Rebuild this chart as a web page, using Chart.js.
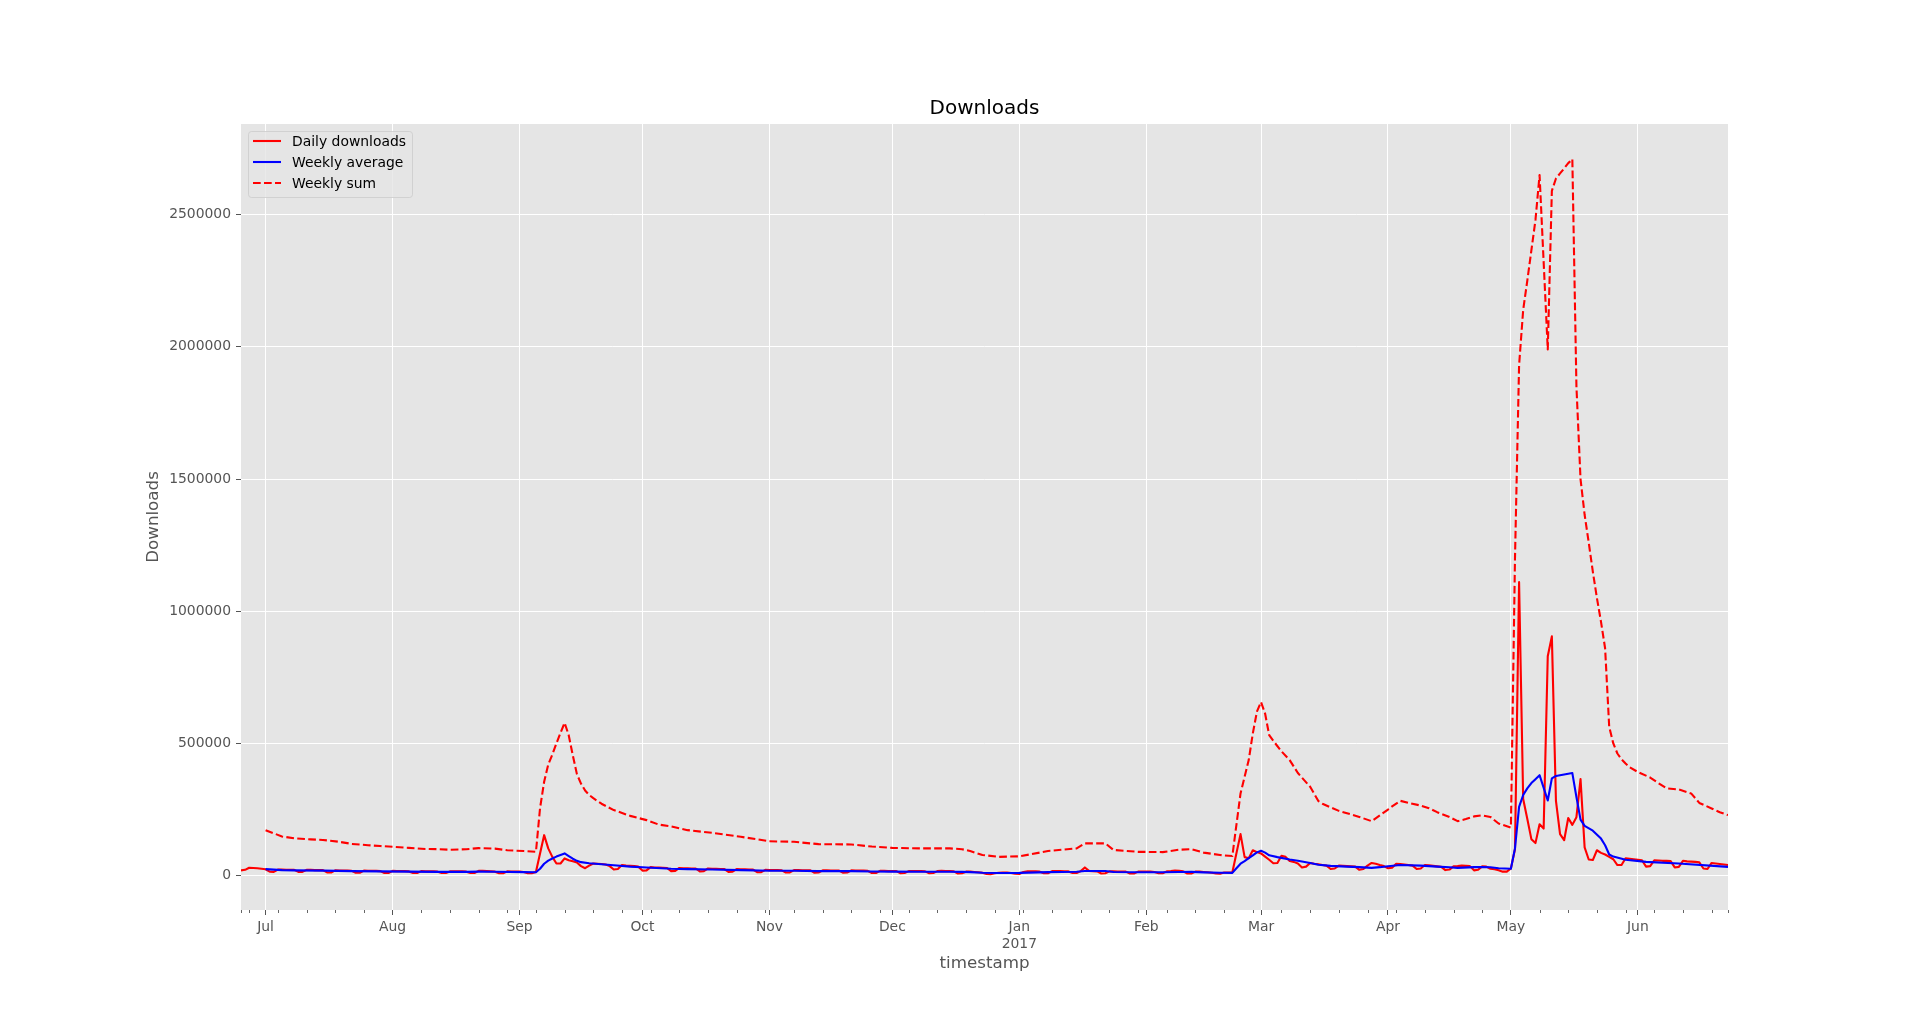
<!DOCTYPE html>
<html>
<head>
<meta charset="utf-8">
<title>Downloads</title>
<script src="https://cdn.jsdelivr.net/npm/chart.js@4.4.0/dist/chart.umd.min.js"></script>
<style>
  html, body { margin: 0; padding: 0; background: #ffffff; }
  #wrap { width: 1920px; height: 1022px; }
</style>
</head>
<body>
<div id="wrap"><canvas id="downloadsChart" width="1920" height="1022"></canvas></div>
<script>
// x values are days counted from 2016-06-25, the first day in the data
const monthTickDays = [6, 37, 68, 98, 129, 159, 190, 221, 249, 280, 310, 341];
const monthTickLabels = ['Jul', 'Aug', 'Sep', 'Oct', 'Nov', 'Dec', ['Jan', '2017'], 'Feb', 'Mar', 'Apr', 'May', 'Jun'];
const lastDay = 363;
const firstMonday = 2;
const yTicks = [0, 500000, 1000000, 1500000, 2000000, 2500000];

// daily downloads in thousands, one row per week (Sat .. Fri)
const dailyDownloads = [
  20, 22, 30, 29, 28, 26, 24,
  15, 14, 23, 23, 22, 22, 22,
  14, 14, 22, 22, 21, 21, 21,
  12, 12, 20, 19, 19, 19, 18,
  11, 11, 19, 18, 18, 18, 17,
  10, 10, 18, 17, 17, 17, 16,
  10, 10, 17, 16, 16, 16, 15,
  10, 10, 16, 16, 16, 16, 15,
  10, 10, 18, 18, 17, 16, 15,
  9, 9, 16, 15, 15, 15, 14,
  9, 9, 14, 84, 153, 103, 71,
  46, 46, 65, 58, 54, 50, 36,
  28, 38, 46, 45, 44, 42, 36,
  23, 25, 40, 38, 37, 36, 34,
  19, 20, 32, 31, 31, 30, 29,
  17, 18, 29, 28, 28, 27, 27,
  16, 17, 27, 26, 26, 25, 25,
  14, 15, 25, 24, 24, 23, 23,
  13, 13, 22, 21, 21, 21, 20,
  12, 12, 21, 21, 20, 20, 20,
  11, 12, 20, 20, 19, 19, 19,
  11, 12, 20, 19, 19, 19, 18,
  10, 10, 18, 18, 17, 17, 17,
  9, 10, 17, 17, 17, 17, 16,
  9, 10, 17, 18, 17, 17, 16,
  8, 9, 15, 15, 14, 13, 11,
  6, 5, 9, 11, 12, 12, 10,
  7, 6, 14, 16, 16, 16, 15,
  9, 9, 17, 17, 17, 16, 16,
  10, 10, 17, 31, 18, 17, 16,
  8, 9, 16, 16, 15, 15, 15,
  8, 8, 15, 15, 15, 15, 14,
  9, 9, 16, 17, 19, 18, 16,
  8, 8, 15, 15, 14, 13, 11,
  8, 7, 12, 12, 12, 85, 157,
  70, 66, 96, 89, 84, 72, 60,
  47, 48, 75, 71, 55, 52, 46,
  31, 34, 48, 45, 43, 40, 38,
  25, 27, 38, 37, 36, 35, 34,
  22, 25, 38, 48, 45, 40, 36,
  28, 30, 45, 44, 42, 40, 38,
  25, 27, 40, 39, 37, 35, 33,
  21, 23, 35, 36, 38, 37, 36,
  20, 22, 35, 34, 26, 24, 20,
  15, 15, 27, 100, 1110, 290, 215,
  138, 123, 194, 178, 830, 905, 283,
  157, 134, 218, 192, 221, 365, 107,
  61, 59, 96, 86, 80, 71, 62,
  40, 40, 66, 64, 62, 60, 58,
  34, 36, 58, 57, 56, 56, 55,
  31, 33, 56, 54, 53, 52, 50,
  27, 25, 48, 46, 44, 42, 40
];

// weekly sum (thousands), read at these days
const weeklySumDays = [
  6, 8, 10, 13, 17, 20, 24, 27, 31, 34, 37, 41, 45, 48, 51, 55, 58, 62, 65, 69,
  72, 73, 74, 75, 76, 77, 78, 79, 80, 81, 82, 83, 84, 85, 86, 88, 91, 95, 99, 102,
  105, 109, 115, 122, 129, 135, 141, 149, 154, 159, 166, 173, 176, 178, 181, 185, 190, 197, 204, 206,
  211, 213, 219, 225, 229, 232, 235, 239, 242, 244, 245, 246, 247, 248, 249, 250, 251, 252, 254, 256,
  258, 261, 263, 264, 266, 268, 270, 273, 276, 278, 280, 281, 283, 285, 288, 290, 292, 295, 297, 299,
  301, 303, 305, 307, 310, 311, 312, 313, 314, 315, 316, 317, 319, 320, 321, 322, 323, 324, 325, 326,
  327, 328, 329, 330, 331, 332, 333, 334, 335, 336, 337, 338, 339, 341, 344, 346, 348, 351, 354, 356,
  359, 361, 363
];
const weeklySum = [
  172, 160, 148, 141, 137, 135, 128, 120, 115, 112, 109, 105, 101, 100, 98, 100, 104, 102, 96, 93,
  90, 255, 355, 420, 458, 500, 540, 578, 531, 455, 384, 348, 322, 305, 293, 272, 248, 226, 210, 193,
  186, 172, 162, 147, 130, 128, 119, 118, 110, 105, 103, 103, 100, 93, 78, 71, 73, 93, 103, 122,
  122, 97, 90, 89, 98, 100, 87, 78, 74, 311, 374, 437, 538, 620, 657, 613, 531, 510, 470, 437,
  388, 336, 282, 272, 258, 245, 236, 222, 206, 228, 250, 262, 283, 275, 265, 255, 240, 222, 206, 214,
  224, 228, 222, 197, 182, 1200, 1930, 2140, 2250, 2365, 2480, 2650, 1990, 2590, 2637, 2656, 2675, 2695, 2710, 1850,
  1500, 1365, 1260, 1150, 1050, 960, 860, 563, 500, 462, 440, 424, 410, 392, 371, 350, 330, 326, 311, 275,
  254, 240, 229
];

// weekly average (thousands), read at these days
const weeklyAvgDays = [
  6, 10, 13, 20, 27, 34, 41, 48, 55, 58, 62, 69, 72, 73, 74, 75, 76, 77, 78, 79,
  80, 81, 82, 83, 85, 88, 91, 95, 99, 105, 109, 115, 122, 129, 135, 141, 149, 154, 159, 166,
  173, 176, 178, 181, 185, 190, 197, 204, 206, 211, 213, 219, 225, 229, 232, 235, 239, 242, 243, 244,
  245, 246, 247, 248, 249, 250, 251, 253, 256, 258, 261, 263, 266, 270, 273, 276, 278, 280, 283, 288,
  292, 295, 297, 301, 303, 305, 307, 310, 311, 312, 313, 314, 315, 316, 317, 319, 320, 321, 322, 325,
  326, 327, 328, 330, 332, 333, 334, 335, 338, 343, 351, 363
];
const weeklyAvg = [
  24.5, 21, 20, 19, 17, 16, 15, 14.3, 14.2, 15, 14.6, 13.3, 13, 26, 45, 57, 65, 72, 78, 84,
  74, 64, 56, 51, 47, 43, 39, 34, 31, 26, 24.5, 23, 21, 18.6, 18.2, 17, 16.9, 15.7, 15, 14.7,
  14.7, 14.3, 13.3, 11.1, 10.1, 10.4, 13.3, 14.7, 17.4, 17.4, 13.9, 12.9, 12.7, 14, 14.3, 12.4, 11.1, 10.6, 28, 45,
  55, 66, 77, 88, 94, 87, 77, 70, 61, 56, 48, 41, 37, 34, 32, 29.4, 32, 35.7, 40, 38,
  34, 31.7, 29.4, 32, 32.6, 31.7, 28.1, 26, 103, 260, 305, 330, 350, 365, 380, 284, 368, 377, 380, 388,
  297, 212, 188, 170, 140, 115, 80, 72, 60, 52, 46, 33
];

const K = 1000;
const FONT = 'DejaVu Sans';
const GREY = '#555555';

function toPoints(days, values) {
  return values.map((v, i) => ({ x: days ? days[i] : i, y: v * K }));
}

// grey panel behind the grid
const panelBg = {
  id: 'panelBg',
  beforeDraw(chart) {
    const { ctx, chartArea: a } = chart;
    ctx.save();
    ctx.fillStyle = '#e5e5e5';
    ctx.fillRect(a.left, a.top, a.right - a.left, a.bottom - a.top);
    ctx.restore();
  }
};

// short weekly ticks (Mondays) plus the ends of the data
const minorTicks = {
  id: 'minorTicks',
  afterDraw(chart) {
    const xs = chart.scales.x;
    const ctx = chart.ctx;
    const days = [0];
    for (let d = firstMonday; d < lastDay; d += 7) days.push(d);
    days.push(lastDay);
    ctx.save();
    ctx.strokeStyle = GREY;
    ctx.lineWidth = 0.9;
    days.forEach(d => {
      if (monthTickDays.includes(d)) return;
      const px = Math.round(xs.getPixelForValue(d)) + 0.5;
      ctx.beginPath();
      ctx.moveTo(px, xs.top);
      ctx.lineTo(px, xs.top + 3);
      ctx.stroke();
    });
    ctx.restore();
  }
};

// matplotlib-like legend box in the upper left of the panel
const boxLegend = {
  id: 'boxLegend',
  afterDraw(chart) {
    const { ctx, chartArea: a } = chart;
    const x0 = a.left + 7, y0 = a.top + 7, w = 164, h = 66;
    ctx.save();
    ctx.fillStyle = 'rgba(229,229,229,0.8)';
    ctx.strokeStyle = 'rgba(204,204,204,0.8)';
    ctx.lineWidth = 1;
    ctx.beginPath();
    ctx.roundRect(x0 + 0.5, y0 + 0.5, w, h, 3);
    ctx.fill();
    ctx.stroke();
    ctx.font = '13.9px "' + FONT + '"';
    ctx.textBaseline = 'middle';
    chart.data.datasets.forEach((ds, i) => {
      const yy = y0 + 10 + i * 21;
      ctx.strokeStyle = ds.borderColor;
      ctx.lineWidth = ds.borderWidth;
      ctx.setLineDash(ds.borderDash || []);
      ctx.beginPath();
      ctx.moveTo(x0 + 5, yy);
      ctx.lineTo(x0 + 33, yy);
      ctx.stroke();
      ctx.setLineDash([]);
      ctx.fillStyle = '#000000';
      ctx.fillText(ds.label, x0 + 44, yy + 1);
    });
    ctx.restore();
  }
};

const ctx = document.getElementById('downloadsChart').getContext('2d');
const downloadsChart = new Chart(ctx, {
  type: 'line',
  data: {
    datasets: [{
      label: 'Daily downloads',
      data: toPoints(null, dailyDownloads),
      borderColor: '#ff0000',
      borderWidth: 2.1,
      order: 3
    }, {
      label: 'Weekly average',
      data: toPoints(weeklyAvgDays, weeklyAvg),
      borderColor: '#0000ff',
      borderWidth: 2.1,
      order: 2
    }, {
      label: 'Weekly sum',
      data: toPoints(weeklySumDays, weeklySum),
      borderColor: '#ff0000',
      borderWidth: 2.1,
      borderDash: [7.7, 3.3],
      order: 1
    }]
  },
  options: {
    responsive: false,
    animation: false,
    devicePixelRatio: 1,
    elements: {
      point: { radius: 0 },
      line: { tension: 0, borderJoinStyle: 'round', fill: false }
    },
    layout: { padding: { left: 0, right: 192, top: 97, bottom: 32 } },
    plugins: {
      legend: { display: false },
      tooltip: { enabled: false },
      title: {
        display: true,
        text: 'Downloads',
        fullSize: false,
        color: '#000000',
        font: { family: FONT, size: 20, weight: 'normal' },
        padding: { top: 0, bottom: 3 }
      }
    },
    scales: {
      x: {
        type: 'linear',
        min: 0,
        max: lastDay,
        offset: false,
        border: { display: false },
        grid: { color: '#ffffff', lineWidth: 1, tickColor: GREY, tickLength: 5 },
        afterBuildTicks: s => { s.ticks = monthTickDays.map(v => ({ value: v })); },
        ticks: {
          autoSkip: false,
          maxRotation: 0,
          padding: 4,
          color: GREY,
          font: { family: FONT, size: 13.9 },
          callback: v => monthTickLabels[monthTickDays.indexOf(v)]
        },
        title: {
          display: true,
          text: 'timestamp',
          color: GREY,
          font: { family: FONT, size: 16.7 },
          padding: { top: 0, bottom: 16 }
        },
        afterFit: s => { s.height = 80; }
      },
      y: {
        min: -130000,
        max: 2843000,
        border: { display: false },
        grid: { color: '#ffffff', lineWidth: 1, tickColor: GREY, tickLength: 5 },
        afterBuildTicks: s => { s.ticks = yTicks.map(v => ({ value: v })); },
        ticks: {
          padding: 5,
          color: GREY,
          font: { family: FONT, size: 13.9 },
          callback: v => String(v)
        },
        title: {
          display: true,
          text: 'Downloads',
          color: GREY,
          font: { family: FONT, size: 16.7 },
          padding: { top: 144, bottom: 0 }
        },
        afterFit: s => { s.width = 241; }
      }
    }
  },
  plugins: [panelBg, minorTicks, boxLegend]
});
</script>
</body>
</html>
